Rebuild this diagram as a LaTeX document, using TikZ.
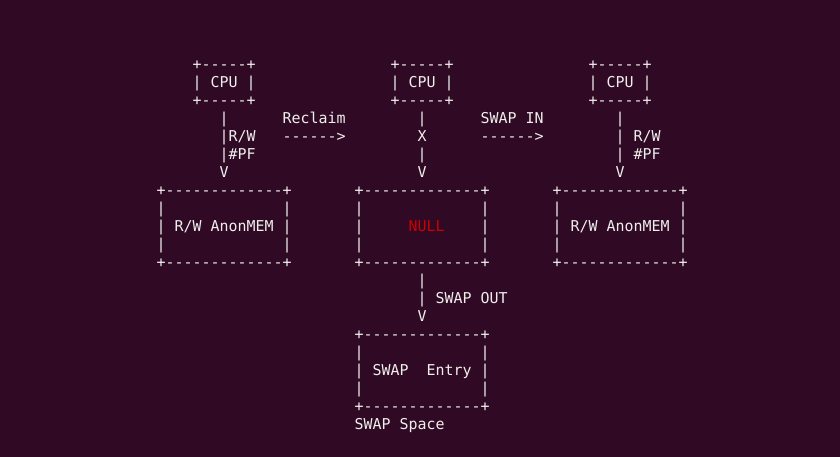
\documentclass[tikz,border=0pt]{standalone}
\usepackage{fontspec}
\setmonofont{DejaVu Sans Mono}
\definecolor{termbg}{HTML}{300A24}
\definecolor{termfg}{HTML}{EEEEEC}
\definecolor{termred}{HTML}{CC0000}
\tikzset{
  txt/.style={anchor=base west, inner sep=0pt, outer sep=0pt, text=termfg,
              font=\ttfamily\fontsize{14.95}{18}\selectfont},
  redtxt/.style={txt, text=termred}
}
% \asc{name}{column}{line}{text}
\newcommand\asc[5][txt]{\node[#1] (#2) at ({156.5+9*#3},{457-69.9-18*#4}) {#5};}
\begin{document}
\begin{tikzpicture}[x=1pt,y=1pt]
\fill[termbg] (0,0) rectangle (840,457);
\useasboundingbox (0,0) rectangle (840,457);
% CPU boxes
\asc{cpuAt}{4}{0}{+-----+}
\asc{cpuBt}{26}{0}{+-----+}
\asc{cpuCt}{48}{0}{+-----+}
\asc{cpuA}{4}{1}{| CPU |}
\asc{cpuB}{26}{1}{| CPU |}
\asc{cpuC}{48}{1}{| CPU |}
\asc{cpuAb}{4}{2}{+-----+}
\asc{cpuBb}{26}{2}{+-----+}
\asc{cpuCb}{48}{2}{+-----+}
% arrows from CPUs
\asc{aA3}{7}{3}{|}
\asc{reclaim}{14}{3}{Reclaim}
\asc{aB3}{29}{3}{|}
\asc{swapin}{36}{3}{SWAP IN}
\asc{aC3}{51}{3}{|}
\asc{aA4}{7}{4}{|R/W}
\asc{arrR}{14}{4}{------>}
\asc{aB4}{29}{4}{X}
\asc{arrS}{36}{4}{------>}
\asc{aC4}{51}{4}{| R/W}
\asc{aA5}{7}{5}{|\#PF}
\asc{aB5}{29}{5}{|}
\asc{aC5}{51}{5}{| \#PF}
\asc{aA6}{7}{6}{V}
\asc{aB6}{29}{6}{V}
\asc{aC6}{51}{6}{V}
% memory boxes
\asc{memAt}{0}{7}{+-------------+}
\asc{memBt}{22}{7}{+-------------+}
\asc{memCt}{44}{7}{+-------------+}
\asc{memA8l}{0}{8}{|}
\asc{memA8r}{14}{8}{|}
\asc{memB8l}{22}{8}{|}
\asc{memB8r}{36}{8}{|}
\asc{memC8l}{44}{8}{|}
\asc{memC8r}{58}{8}{|}
\asc{memA}{0}{9}{| R/W AnonMEM |}
\asc{memB9l}{22}{9}{|}
\asc[redtxt]{null}{28}{9}{NULL}
\asc{memB9r}{36}{9}{|}
\asc{memC}{44}{9}{| R/W AnonMEM |}
\asc{memA10l}{0}{10}{|}
\asc{memA10r}{14}{10}{|}
\asc{memB10l}{22}{10}{|}
\asc{memB10r}{36}{10}{|}
\asc{memC10l}{44}{10}{|}
\asc{memC10r}{58}{10}{|}
\asc{memAb}{0}{11}{+-------------+}
\asc{memBb}{22}{11}{+-------------+}
\asc{memCb}{44}{11}{+-------------+}
% swap out
\asc{so12}{29}{12}{|}
\asc{so13}{29}{13}{| SWAP OUT}
\asc{so14}{29}{14}{V}
% swap entry box
\asc{swt}{22}{15}{+-------------+}
\asc{sw16l}{22}{16}{|}
\asc{sw16r}{36}{16}{|}
\asc{swA}{22}{17}{| SWAP}
\asc{swB}{30}{17}{Entry |}
\asc{sw18l}{22}{18}{|}
\asc{sw18r}{36}{18}{|}
\asc{swb}{22}{19}{+-------------+}
\asc{swspace}{22}{20}{SWAP Space}
\end{tikzpicture}
\end{document}
